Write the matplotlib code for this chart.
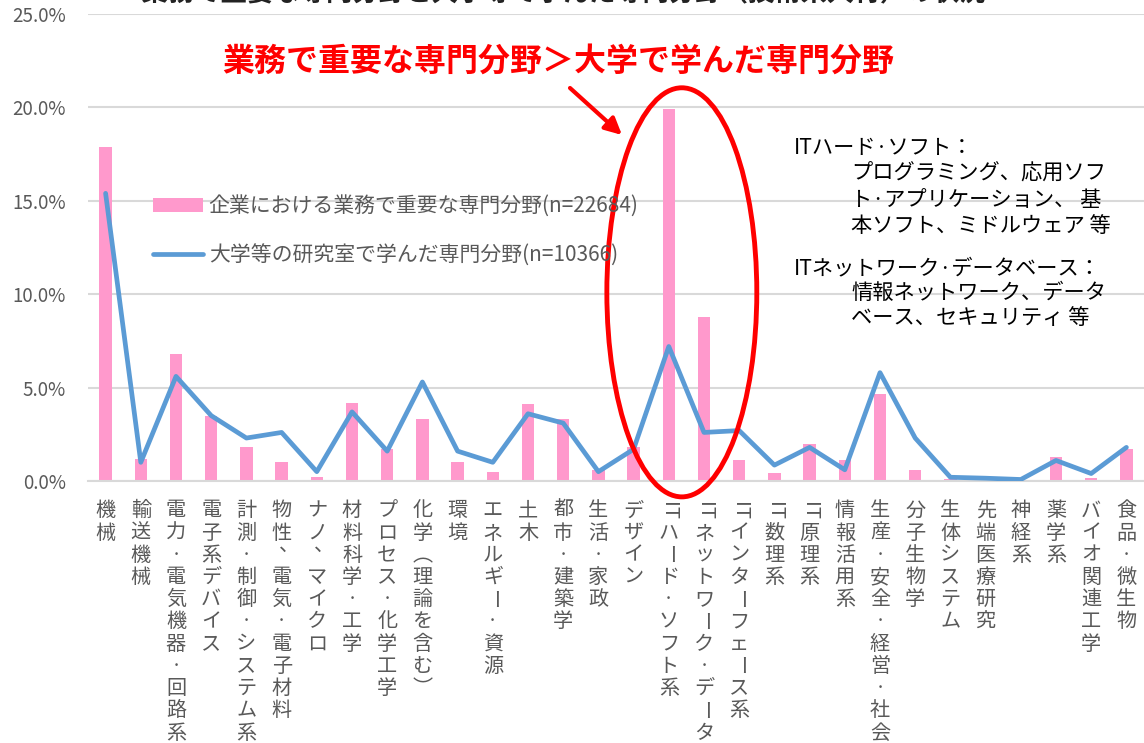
import numpy as np
import matplotlib.pyplot as plt
from matplotlib.patches import Ellipse

plt.rcParams['font.family'] = ['Noto Sans CJK JP', 'DejaVu Sans']

# 専門分野
fields = [
    '機械', '輸送機械', '電力·電気機器·回路系', '電子系デバイス', '計測·制御·システム系',
    '物性、電気·電子材料', 'ナノ、マイクロ', '材料科学·工学', 'プロセス·化学工学', '化学（理論を含む）',
    '環境', 'エネルギー·資源', '土木', '都市·建築学', '生活·家政',
    'デザイン', 'ITハード·ソフト系', 'ITネットワーク·データベース系', 'ITインターフェース系', 'IT数理系',
    'IT原理系', '情報活用系', '生産·安全·経営·社会', '分子生物学', '生体システム',
    '先端医療研究', '神経系', '薬学系', 'バイオ関連工学', '食品·微生物',
]

# 企業における業務で重要な専門分野 (%)
business = [17.9, 1.2, 6.8, 3.5, 1.8, 1.0, 0.2, 4.2, 1.7, 3.3,
            1.0, 0.5, 4.1, 3.3, 0.6, 1.8, 19.9, 8.8, 1.1, 0.45,
            2.0, 1.1, 4.65, 0.6, 0.1, 0.05, 0.02, 1.3, 0.15, 1.7]

# 大学等の研究室で学んだ専門分野 (%)
university = [15.4, 1.0, 5.6, 3.5, 2.3, 2.6, 0.5, 3.7, 1.6, 5.3,
              1.6, 1.0, 3.6, 3.1, 0.5, 1.7, 7.2, 2.6, 2.7, 0.85,
              1.8, 0.6, 5.8, 2.3, 0.2, 0.15, 0.08, 1.1, 0.4, 1.8]

legend_labels = ['企業における業務で重要な専門分野(n=22684)',
                 '大学等の研究室で学んだ専門分野(n=10366)']

note_lines = [
    ('ITハード·ソフト：', 0),
    ('プログラミング、応用ソフ', 1),
    ('ト·アプリケーション、 基', 1),
    ('本ソフト、ミドルウェア 等', 1),
    ('ITネットワーク·データベース：', 0),
    ('情報ネットワーク、データ', 1),
    ('ベース、セキュリティ 等', 1),
]
note_y = [148, 174, 200, 226, 268, 293, 318]

W, H = 1144, 743
GRAY = '#595959'

fig = plt.figure(figsize=(W / 100, H / 100), dpi=100)
ax = fig.add_axes([88 / W, (H - 481) / H, (W - 88) / W, 467 / H])

x = np.arange(len(fields))
bars = ax.bar(x, business, width=0.35, color='#FF99CC', zorder=2)
line, = ax.plot(x, university, color='#5B9BD5', lw=3.4, solid_joinstyle='round',
                solid_capstyle='round', zorder=3)

ax.set_xlim(-0.5, len(fields) - 0.5)
ax.set_ylim(0, 25)
ax.set_yticks(np.arange(0, 26, 5))
ax.set_yticklabels([f'{v:.1f}%' for v in np.arange(0, 26, 5)])
ax.set_xticks([])
ax.tick_params(axis='y', length=0, pad=16, labelsize=13.5, labelcolor=GRAY)
ax.yaxis.grid(True, color='#D9D9D9', lw=1.5)
ax.set_axisbelow(True)
for s in ['top', 'right', 'left']:
    ax.spines[s].set_visible(False)
ax.spines['bottom'].set_color('#D9D9D9')
ax.spines['bottom'].set_linewidth(1.5)


# 縦書きのカテゴリラベル
def split_tokens(s):
    out = []
    i = 0
    while i < len(s):
        if s.startswith('IT', i):
            out.append('IT')
            i += 2
        else:
            out.append(s[i])
            i += 1
    return out


rotated = {'IT', 'ー'}
swap = {'（': '︵', '）': '︶'}  # 縦書き用の括弧
step = 16.0  # points per character cell
for i, name in enumerate(fields):
    for k, tok in enumerate(split_tokens(name)):
        tok = swap.get(tok, tok)
        dx, dy = 0, -21.5 - k * step
        rot = -90 if tok in rotated else 0
        if tok == '、':
            dx, dy = dx + 5, dy + 7
        ax.annotate(tok, xy=(i, 0), xycoords=('data', 'axes fraction'),
                    xytext=(dx, dy), textcoords='offset points',
                    ha='center', va='center', rotation=rot,
                    fontsize=14.5, color=GRAY, annotation_clip=False)

leg = ax.legend([bars, line], legend_labels, loc='upper left',
                bbox_to_anchor=(0.062, 0.612), frameon=False,
                fontsize=15, handlelength=2.4, handletextpad=0.25,
                labelspacing=1.3, borderpad=0, borderaxespad=0)
for t in leg.get_texts():
    t.set_color(GRAY)

# 注目部分の楕円と矢印
ax.add_patch(Ellipse((16.37, 10.1), 4.26, 21.9, fill=False, edgecolor='#FF0000',
                     lw=3.5, clip_on=False, zorder=4))
fig.text(558 / W, (H - 62) / H, '業務で重要な専門分野＞大学で学んだ専門分野',
         ha='center', va='center', fontsize=23, fontweight='bold', color='#FF0000')
ax.annotate('', xy=(622, H - 135), xycoords='figure pixels',
            xytext=(570, H - 88), textcoords='figure pixels',
            arrowprops=dict(arrowstyle='-|>', color='#FF0000', lw=3,
                            mutation_scale=25, shrinkA=0, shrinkB=0))

# 上端で切れているタイトル
fig.text(115 / W, (H - 7) / H,
         '～業務で重要な専門分野と大学等で学んだ専門分野（技術系人材）の状況～',
         ha='left', va='bottom', fontsize=19, fontweight='bold', color='#222222')

# IT分野の注記
for (txt, indent), ypix in zip(note_lines, note_y):
    xpix = 794 if indent == 0 else 851
    fig.text(xpix / W, (H - ypix) / H, txt, ha='left', va='center',
             fontsize=15.3, color='#000000')

fig.savefig('out.png', dpi=100)
